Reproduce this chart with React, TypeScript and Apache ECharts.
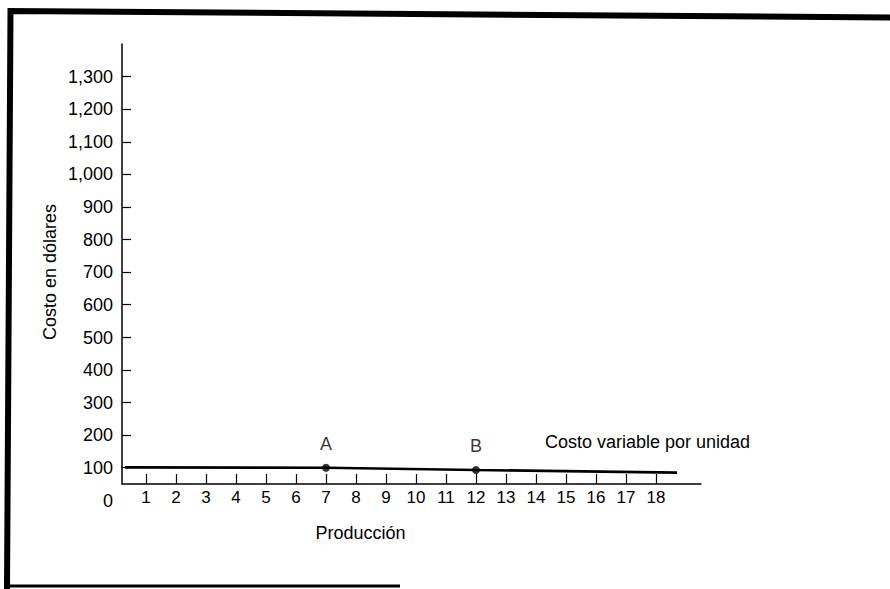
import React, { useEffect, useRef } from "react";
import * as echarts from "echarts";

const xTickValues = [1, 2, 3, 4, 5, 6, 7, 8, 9, 10, 11, 12, 13, 14, 15, 16, 17, 18];
const yTickValues = [100, 200, 300, 400, 500, 600, 700, 800, 900, 1000, 1100, 1200, 1300];
const yLabelValues = [0, 100, 200, 300, 400, 500, 600, 700, 800, 900, 1000, 1100, 1200, 1300];
const costLine: [number, number][] = [
  [0.3, 101],
  [7, 100],
  [12, 93],
  [18.7, 85],
];
const pointNames = ["A", "B"];
const pointValues: [number, number][] = [
  [7, 100],
  [12, 93],
];
const xTitle = "Producción";
const yTitle = "Costo en dólares";
const lineLabel = "Costo variable por unidad";

const FONT = "'Liberation Sans', Arial, Helvetica, sans-serif";

export default function App() {
  const ref = useRef<HTMLDivElement>(null);
  useEffect(() => {
    if (!ref.current) return;
    const chart = echarts.init(ref.current, null, { renderer: "svg" });
    chart.setOption({
      animation: false,
      backgroundColor: "#ffffff",
      textStyle: { fontFamily: FONT, color: "#000" },
      grid: [
        { left: 122, right: 189, top: 44, bottom: 88.4 },
        { left: 122, right: 189, top: 44, bottom: 105 },
      ],
      xAxis: [
        { gridIndex: 0, type: "value", min: 0.2, max: 19.5, show: false },
        {
          gridIndex: 1,
          type: "value",
          min: 0.2,
          max: 19.5,
          axisLine: { show: true, onZero: false, lineStyle: { color: "#000", width: 1.5 } },
          axisTick: {
            show: true,
            inside: true,
            length: 10,
            customValues: xTickValues,
            lineStyle: { color: "#000", width: 1.2 },
          },
          axisLabel: {
            customValues: xTickValues,
            color: "#000",
            fontSize: 17,
            fontFamily: FONT,
            margin: 5,
          },
          splitLine: { show: false },
          name: xTitle,
          nameLocation: "middle",
          nameGap: 40,
          nameTextStyle: { color: "#000", fontSize: 18, fontFamily: FONT, padding: [0, 102, 0, 0] },
        },
      ],
      yAxis: [
        {
          gridIndex: 0,
          type: "value",
          min: 0,
          max: 1400,
          axisLine: { show: false },
          axisTick: { show: false },
          splitLine: { show: false },
          axisLabel: {
            customValues: yLabelValues,
            color: "#000",
            fontSize: 18,
            fontFamily: FONT,
            margin: 9,
            formatter: (v: number) => v.toLocaleString("en-US"),
          },
        },
        {
          gridIndex: 1,
          type: "value",
          min: 50,
          max: 1400,
          axisLine: { show: true, onZero: false, lineStyle: { color: "#000", width: 1.5 } },
          axisTick: {
            show: true,
            inside: true,
            length: 9,
            customValues: yTickValues,
            lineStyle: { color: "#000", width: 1.2 },
          },
          axisLabel: { show: false },
          splitLine: { show: false },
          name: yTitle,
          nameLocation: "middle",
          nameGap: 63,
          nameTextStyle: { color: "#000", fontSize: 18, fontFamily: FONT, padding: [0, 16, 0, 0] },
        },
      ],
      series: [
        {
          type: "line",
          xAxisIndex: 1,
          yAxisIndex: 1,
          data: costLine,
          showSymbol: false,
          symbol: "none",
          lineStyle: { color: "#000", width: 2.6 },
          silent: true,
        },
        {
          type: "scatter",
          xAxisIndex: 1,
          yAxisIndex: 1,
          symbol: "circle",
          symbolSize: 8,
          itemStyle: { color: "#000" },
          data: pointValues.map((v, i) => ({ name: pointNames[i], value: v })),
          label: {
            show: true,
            position: "top",
            distance: 11,
            formatter: (p: any) => p.name,
            color: "#000",
            fontSize: 18,
            fontFamily: FONT,
          },
        },
      ],
      graphic: [
        {
          type: "text",
          left: 545,
          top: 433,
          style: { text: lineLabel, fill: "#000", fontSize: 18, fontFamily: FONT },
        },
        {
          type: "polyline",
          shape: { points: [[7, 589], [10.5, 11], [890, 17.5]] },
          style: { stroke: "#000", lineWidth: 6, fill: null },
        },
        {
          type: "line",
          shape: { x1: 6, y1: 586, x2: 400, y2: 586 },
          style: { stroke: "#000", lineWidth: 3 },
        },
      ],
    });
    return () => chart.dispose();
  }, []);
  return (
    <div
      ref={ref}
      style={{ position: "fixed", left: 0, top: 0, width: 890, height: 589 }}
    />
  );
}
